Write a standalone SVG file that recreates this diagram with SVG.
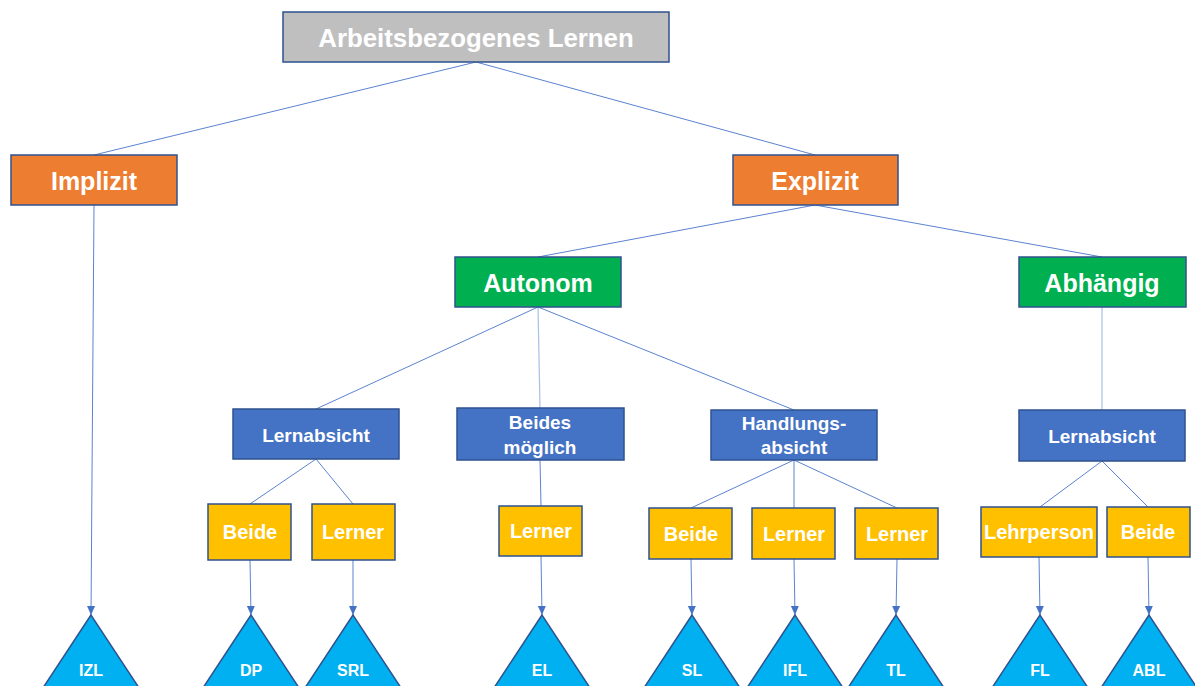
<svg xmlns="http://www.w3.org/2000/svg" width="1195" height="686" viewBox="0 0 1195 686">
<style>
.b{stroke:#2F528F;stroke-width:1.5}
.g{fill:#BFBFBF}.o{fill:#ED7D31}.gr{fill:#00B050}.bl{fill:#4472C4}.y{fill:#FFC000}.t{fill:#00B0F0}
text{font-family:"Liberation Sans",Arial,sans-serif;font-weight:bold;fill:#fff;text-anchor:middle;dominant-baseline:central}
.f26{font-size:25.8px}.f25{font-size:25px}.f20{font-size:20px}.f18{font-size:19px}.f16{font-size:16px}
#conn line{stroke:#5B83CF;stroke-width:1}
#conn line.p{stroke:#A9C0E6;stroke-width:1.2}
#conn line.a{marker-end:url(#ah)}
</style>
<defs>
<marker id="ah" markerWidth="10" markerHeight="10" viewBox="0 0 10 10" refX="9" refY="5" orient="auto" markerUnits="userSpaceOnUse">
<path d="M0,1 L9,5 L0,9 z" fill="#4472C4"/>
</marker>
</defs>
<rect width="1195" height="686" fill="#fff"/>
<g id="conn">
<line x1="476" y1="62" x2="94" y2="155"/>
<line x1="476" y1="62" x2="815" y2="155"/>
<line class="a" x1="94" y1="205" x2="91" y2="615"/>
<line x1="815" y1="205" x2="538" y2="257"/>
<line x1="815" y1="205" x2="1102" y2="257"/>
<line x1="538" y1="307" x2="316" y2="409"/>
<line class="p" x1="538" y1="307" x2="540" y2="408"/>
<line x1="538" y1="307" x2="794" y2="410"/>
<line class="p" x1="1102" y1="307" x2="1102" y2="410"/>
<line x1="316" y1="459" x2="250" y2="504"/>
<line x1="316" y1="459" x2="353" y2="504"/>
<line x1="540" y1="460" x2="541" y2="506"/>
<line x1="794" y1="460" x2="691" y2="508"/>
<line x1="794" y1="460" x2="794" y2="508"/>
<line x1="794" y1="460" x2="897" y2="508"/>
<line x1="1102" y1="461" x2="1040" y2="507"/>
<line x1="1102" y1="461" x2="1148" y2="507"/>
<line class="a" x1="250" y1="560" x2="251" y2="615"/>
<line class="a" x1="353" y1="560" x2="353" y2="615"/>
<line class="a" x1="541" y1="556" x2="542" y2="615"/>
<line class="a" x1="691" y1="559" x2="692" y2="615"/>
<line class="a" x1="794" y1="559" x2="795" y2="615"/>
<line class="a" x1="897" y1="559" x2="896" y2="615"/>
<line class="a" x1="1039" y1="557" x2="1040" y2="615"/>
<line class="a" x1="1148" y1="557" x2="1149" y2="615"/>
</g>
<g id="n-root"><rect class="b g" x="283" y="12" width="386" height="50"/><text class="f26" x="476" y="38">Arbeitsbezogenes Lernen</text></g>
<g id="n-implizit"><rect class="b o" x="11" y="155" width="166" height="50"/><text class="f25" x="94" y="181">Implizit</text></g>
<g id="n-explizit"><rect class="b o" x="733" y="155" width="165" height="50"/><text class="f25" x="815" y="181">Explizit</text></g>
<g id="n-autonom"><rect class="b gr" x="455" y="257" width="166" height="50"/><text class="f25" x="538" y="283">Autonom</text></g>
<g id="n-abhaengig"><rect class="b gr" x="1019" y="257" width="167" height="50"/><text class="f25" x="1102" y="283">Abhängig</text></g>
<g id="n-lernabsicht1"><rect class="b bl" x="233" y="409" width="166" height="50"/><text class="f18" x="316" y="435">Lernabsicht</text></g>
<g id="n-beides"><rect class="b bl" x="457" y="408" width="167" height="52"/><text class="f18" x="540" y="422">Beides</text><text class="f18" x="540" y="447">möglich</text></g>
<g id="n-handlung"><rect class="b bl" x="711" y="410" width="166" height="50"/><text class="f18" x="794" y="423">Handlungs-</text><text class="f18" x="794" y="447">absicht</text></g>
<g id="n-lernabsicht2"><rect class="b bl" x="1019" y="410" width="166" height="51"/><text class="f18" x="1102" y="436">Lernabsicht</text></g>
<g id="n-beide1"><rect class="b y" x="208" y="504" width="83" height="56"/><text class="f20" x="250" y="532">Beide</text></g>
<g id="n-lerner1"><rect class="b y" x="312" y="504" width="83" height="56"/><text class="f20" x="353" y="532">Lerner</text></g>
<g id="n-lerner2"><rect class="b y" x="499" y="506" width="83" height="50"/><text class="f20" x="541" y="531">Lerner</text></g>
<g id="n-beide2"><rect class="b y" x="649" y="508" width="83" height="51"/><text class="f20" x="691" y="534">Beide</text></g>
<g id="n-lerner3"><rect class="b y" x="752" y="508" width="83" height="51"/><text class="f20" x="794" y="534">Lerner</text></g>
<g id="n-lerner4"><rect class="b y" x="855" y="508" width="83" height="51"/><text class="f20" x="897" y="534">Lerner</text></g>
<g id="n-lehrperson"><rect class="b y" x="981" y="507" width="116" height="50"/><text class="f20" x="1039" y="532">Lehrperson</text></g>
<g id="n-beide3"><rect class="b y" x="1107" y="507" width="83" height="50"/><text class="f20" x="1148" y="532">Beide</text></g>
<g id="n-izl"><polygon class="b t" points="91,615 35,700 147,700"/><text class="f16" x="91" y="670">IZL</text></g>
<g id="n-dp"><polygon class="b t" points="251,615 195,700 307,700"/><text class="f16" x="251" y="670">DP</text></g>
<g id="n-srl"><polygon class="b t" points="353,615 297,700 409,700"/><text class="f16" x="353" y="670">SRL</text></g>
<g id="n-el"><polygon class="b t" points="542,615 486,700 598,700"/><text class="f16" x="542" y="670">EL</text></g>
<g id="n-sl"><polygon class="b t" points="692,615 636,700 748,700"/><text class="f16" x="692" y="670">SL</text></g>
<g id="n-ifl"><polygon class="b t" points="795,615 739,700 851,700"/><text class="f16" x="795" y="670">IFL</text></g>
<g id="n-tl"><polygon class="b t" points="896,615 840,700 952,700"/><text class="f16" x="896" y="670">TL</text></g>
<g id="n-fl"><polygon class="b t" points="1040,615 984,700 1096,700"/><text class="f16" x="1040" y="670">FL</text></g>
<g id="n-abl"><polygon class="b t" points="1149,615 1093,700 1205,700"/><text class="f16" x="1149" y="670">ABL</text></g>
</svg>
